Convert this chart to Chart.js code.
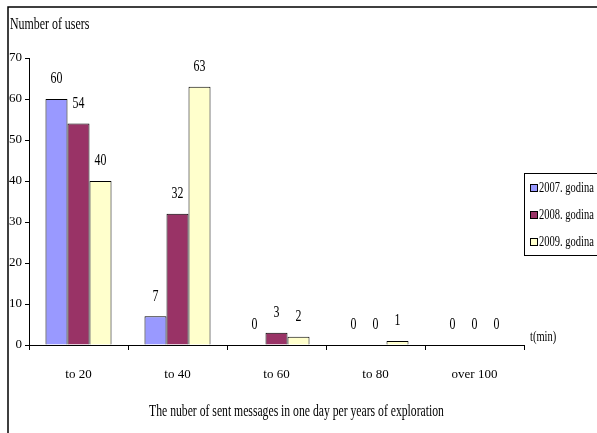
<!DOCTYPE html>
<html>
<head>
<meta charset="utf-8">
<script src="https://cdn.jsdelivr.net/npm/chart.js@4/dist/chart.umd.min.js"></script>
<style>
  html, body { margin: 0; padding: 0; background: #fff; }
  canvas { display: block; }
</style>
</head>
<body>
<canvas id="chart" width="597" height="433"></canvas>
<script>
// Number of users by time spent per day, grouped by year
const categories = ['to 20', 'to 40', 'to 60', 'to 80', 'over 100']
const seriesNames = ['2007. godina', '2008. godina', '2009. godina']
const values2007 = [60, 7, 0, 0, 0]
const values2008 = [54, 32, 3, 0, 0]
const values2009 = [40, 63, 2, 1, 0]
const yTicks = [0, 10, 20, 30, 40, 50, 60, 70]
const xTitle = 'The nuber of sent messages in one day per years of exploration'

const COLORS = ['#9999ff', '#993366', '#ffffcc']
const FONT = '"Liberation Serif", "Times New Roman", serif'

// the original uses a tall, narrow serif - squeeze text horizontally
function narrowText(ctx, text, x, y, size, squeeze = 0.7) {
  ctx.save()
  ctx.font = size + 'px ' + FONT
  ctx.translate(x, y)
  ctx.scale(squeeze, 1)
  ctx.fillText(text, 0, 0)
  ctx.restore()
}

// frame, axis captions, value labels and the boxed legend
const decorations = {
  id: 'decorations',
  afterDraw(chart) {
    const ctx = chart.ctx
    const area = chart.chartArea
    ctx.save()

    // outer frame (top + left edges are visible in the picture)
    ctx.strokeStyle = '#000'
    ctx.lineWidth = 1.5
    ctx.beginPath()
    ctx.moveTo(8, 433)
    ctx.lineTo(8, 7)
    ctx.lineTo(597, 7)
    ctx.stroke()

    ctx.fillStyle = '#000'
    ctx.textBaseline = 'middle'
    ctx.textAlign = 'left'
    narrowText(ctx, 'Number of users', 10, 25, 17)
    narrowText(ctx, 't(min)', area.right + 6, area.bottom - 8, 15)

    ctx.textAlign = 'center'
    narrowText(ctx, xTitle, (area.left + area.right) / 2 + 20, 412, 16, 0.73)

    // value labels above each bar
    chart.data.datasets.forEach((ds, i) => {
      const meta = chart.getDatasetMeta(i)
      meta.data.forEach((bar, j) => {
        narrowText(ctx, String(ds.data[j]), bar.x, bar.y - 20, 17)
      })
    })

    // legend box
    const lx = area.right, ly = 173, lh = 82
    ctx.lineWidth = 1
    ctx.strokeStyle = '#000'
    ctx.strokeRect(lx + 0.5, ly + 0.5, 597 - lx + 5, lh)
    ctx.textAlign = 'left'
    chart.data.datasets.forEach((ds, i) => {
      const y = ly + 15 + i * 27
      ctx.fillStyle = ds.backgroundColor
      ctx.fillRect(lx + 6, y - 3.5, 7, 7)
      ctx.strokeRect(lx + 6.5, y - 3.5, 7, 7)
      ctx.fillStyle = '#000'
      narrowText(ctx, ds.label, lx + 15, y, 15)
    })
    ctx.restore()
  }
}

new Chart(document.getElementById('chart'), {
  type: 'bar',
  data: {
    labels: categories,
    datasets: [values2007, values2008, values2009].map((vals, i) => ({
      label: seriesNames[i],
      data: vals,
      backgroundColor: COLORS[i],
      borderColor: '#000',
      borderWidth: 1,
      barPercentage: 1,
      categoryPercentage: 0.667
    }))
  },
  options: {
    responsive: false,
    animation: false,
    devicePixelRatio: 1,
    layout: { padding: { left: 8, top: 58, right: 73, bottom: 0 } },
    plugins: {
      legend: { display: false },
      tooltip: { enabled: false }
    },
    scales: {
      x: {
        grid: { offset: true, drawOnChartArea: false, drawTicks: true, tickLength: 5, color: '#000' },
        border: { color: '#000', width: 1 },
        ticks: { color: '#000', font: { family: FONT, size: 13 }, padding: 17 },
        afterFit: (s) => { s.height = 88 }
      },
      y: {
        min: 0,
        max: 70,
        afterBuildTicks: (s) => { s.ticks = yTicks.map(v => ({ value: v })) },
        grid: { drawOnChartArea: false, drawTicks: true, tickLength: 4, color: '#000' },
        border: { color: '#000', width: 1 },
        ticks: { color: '#000', font: { family: FONT, size: 13 }, padding: 3 },
        afterFit: (s) => { s.width = 21 }
      }
    }
  },
  plugins: [decorations]
})
</script>
</body>
</html>
